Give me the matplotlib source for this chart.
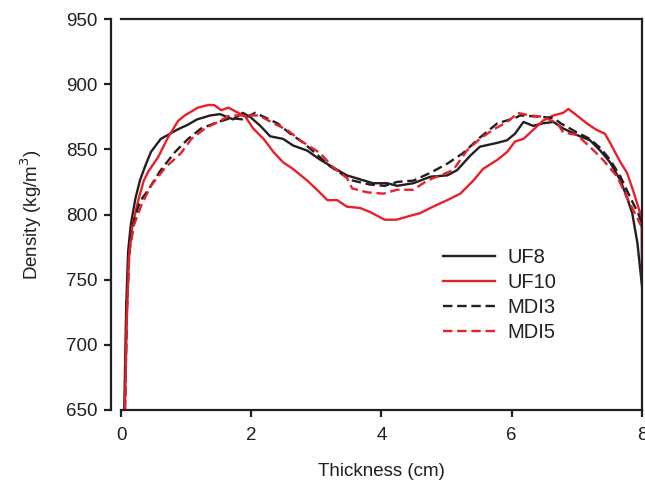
import matplotlib
matplotlib.use("Agg")
import matplotlib.pyplot as plt

plt.rcParams['font.family'] = ['Liberation Sans', 'DejaVu Sans']

uf8_t = [0.05, 0.08, 0.11, 0.15, 0.22, 0.29, 0.37, 0.46, 0.61, 0.72, 0.86, 1.03, 1.17, 1.37, 1.52, 1.72, 1.87, 1.98,
         2.14, 2.29, 2.49, 2.64, 2.86, 3.06, 3.26, 3.47, 3.67, 3.87, 4.09, 4.24, 4.49, 4.75, 5.01, 5.16, 5.36, 5.51,
         5.78, 5.93, 6.05, 6.18, 6.33, 6.48, 6.64, 6.79, 7.00, 7.20, 7.36, 7.51, 7.67, 7.77, 7.85, 7.93, 8.0]
uf8_v = [650, 730, 772, 792, 812, 826, 837, 848, 858, 861, 865, 869, 873, 876, 877, 873, 878, 875,
         868, 860, 858, 853, 849, 842, 836, 830, 827, 824, 824, 822, 824, 829, 830, 834, 845, 852,
         855, 857, 862, 871, 868, 870, 871, 866, 861, 857, 849, 840, 826, 813, 801, 778, 745]

uf10_t = [0.06, 0.09, 0.12, 0.17, 0.26, 0.35, 0.42, 0.57, 0.72, 0.88, 0.98, 1.18, 1.34, 1.43, 1.54, 1.65, 1.80, 1.91,
          2.03, 2.19, 2.34, 2.49, 2.64, 2.86, 3.01, 3.17, 3.32, 3.47, 3.67, 3.82, 4.05, 4.23, 4.44, 4.59, 4.79, 5.01,
          5.21, 5.41, 5.56, 5.78, 5.93, 6.05, 6.18, 6.33, 6.48, 6.64, 6.79, 6.87, 7.00, 7.15, 7.30, 7.43, 7.51, 7.67,
          7.77, 7.86, 7.96, 7.995, 8.0]
uf10_v = [650, 720, 765, 790, 810, 826, 833, 844, 859, 872, 876, 882, 884, 884, 880, 882, 878, 875,
          866, 858, 848, 840, 835, 826, 819, 811, 811, 806, 805, 802, 796, 796, 799, 801, 806, 811,
          816, 826, 835, 842, 848, 856, 858, 865, 872, 876, 878, 881, 876, 870, 865, 862, 855, 840,
          832, 819, 803, 798, 752]

mdi3_t = [0.06, 0.09, 0.13, 0.2, 0.29, 0.42, 0.61, 0.83, 1.03, 1.23, 1.49, 1.69, 1.86, 2.06, 2.19, 2.40, 2.60, 2.80,
          3.01, 3.21, 3.36, 3.56, 3.82, 4.05, 4.24, 4.49, 4.75, 5.01, 5.25, 5.51, 5.78, 6.05, 6.13, 6.44, 6.64, 6.75,
          7.00, 7.20, 7.36, 7.51, 7.67, 7.82, 7.94, 8.0]
mdi3_v = [650, 730, 775, 795, 810, 819, 834, 848, 858, 866, 871, 874, 873, 878, 875, 870, 862, 855,
          846, 837, 832, 826, 823, 822, 825, 826, 832, 839, 847, 859, 870, 874, 876, 875, 874, 870,
          863, 858, 851, 842, 829, 813, 801, 793]

mdi5_t = [0.06, 0.09, 0.13, 0.2, 0.32, 0.46, 0.68, 0.92, 1.08, 1.29, 1.49, 1.67, 1.83, 2.12, 2.34, 2.55, 2.75, 3.06,
          3.26, 3.47, 3.55, 3.78, 4.03, 4.24, 4.49, 4.70, 4.90, 5.10, 5.31, 5.51, 5.71, 5.93, 6.05, 6.08, 6.28, 6.48,
          6.70, 6.79, 7.00, 7.20, 7.40, 7.62, 7.77, 7.92, 8.0]
mdi5_v = [650, 725, 772, 792, 808, 822, 836, 847, 858, 866, 871, 876, 876, 876, 870, 865, 857, 847,
          836, 828, 820, 817, 816, 819, 819, 826, 830, 834, 849, 858, 865, 871, 876, 878, 876, 875,
          870, 863, 861, 852, 842, 829, 813, 798, 790]

x_ticks = [0, 2, 4, 6, 8]
y_ticks = [650, 700, 750, 800, 850, 900, 950]

RED = '#E8202A'
BLK = '#231F20'

fig = plt.figure(figsize=(6.45, 4.87), dpi=100)
ax = fig.add_axes([121/645, 77/487, 521/645, 391/487])

lw = 1.7
ax.plot(uf8_t, uf8_v, color=BLK, lw=lw, label='UF8')
ax.plot(uf10_t, uf10_v, color=RED, lw=lw, label='UF10')
ax.plot(mdi3_t, mdi3_v, color=BLK, lw=lw, dashes=(4, 2), label='MDI3')
ax.plot(mdi5_t, mdi5_v, color=RED, lw=lw, dashes=(4, 2), label='MDI5')

ax.set_xlim(0, 8)
ax.set_ylim(650, 950)
ax.set_xticks(x_ticks)
ax.set_yticks(y_ticks)

for s in ax.spines.values():
    s.set_linewidth(1.6)
    s.set_color(BLK)
ax.spines['left'].set_position(('outward', 7))
ax.tick_params(direction='out', length=5, width=1.6, colors=BLK, labelsize=13.5, pad=5)
ax.tick_params(axis='x', pad=7)

ax.set_xlabel('Thickness (cm)', fontsize=13.5, color=BLK, labelpad=14)
ax.set_ylabel('Density (kg/m$^3$)', fontsize=13.5, color=BLK, labelpad=16)

leg = ax.legend(loc='center left', bbox_to_anchor=(0.618, 0.295), frameon=False, fontsize=14.5,
                handlelength=2.6, handletextpad=0.6, labelspacing=0.3, borderpad=0, borderaxespad=0)
for t in leg.get_texts():
    t.set_color(BLK)

fig.savefig('out.png', dpi=100)
